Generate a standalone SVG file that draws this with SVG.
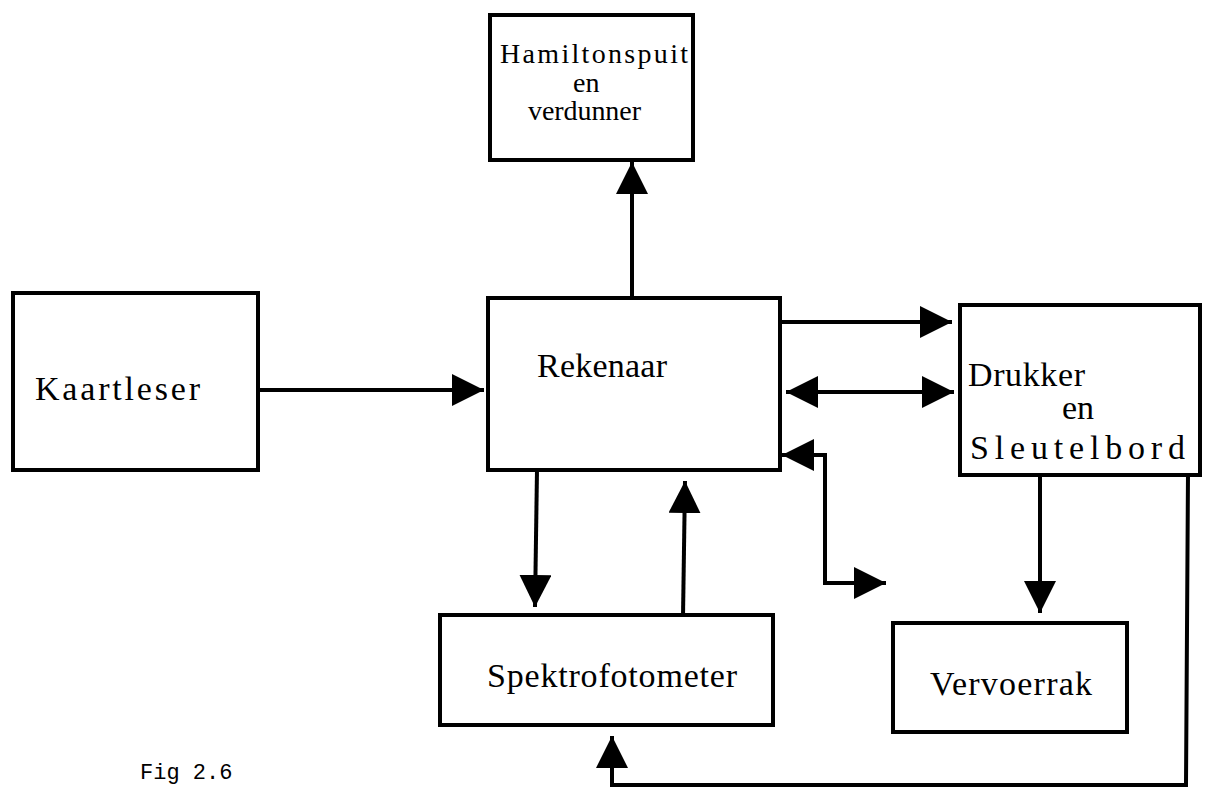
<svg xmlns="http://www.w3.org/2000/svg" width="1209" height="791" viewBox="0 0 1209 791">
<style>
.box{fill:#fff;stroke:#000;stroke-width:4}
.lbl{font-family:"Liberation Serif",serif;font-size:34px;fill:#000}
.sm{font-size:28px}
.con{fill:none;stroke:#000;stroke-width:4}
.fig{font-family:"Liberation Mono",monospace;font-size:22px;fill:#000}
</style>
<defs>
<marker id="ah" markerUnits="userSpaceOnUse" markerWidth="34" markerHeight="32" refX="32" refY="16" orient="auto-start-reverse">
<path d="M0,0 L32,16 L0,32 z" fill="#000"/>
</marker>
</defs>
<rect width="1209" height="791" fill="#fff"/>
<g id="hamilton">
<rect class="box" x="490" y="15" width="203" height="145"/>
<text class="lbl sm" x="500" y="63" textLength="188">Hamiltonspuit</text>
<text class="lbl sm" x="573" y="92">en</text>
<text class="lbl sm" x="528" y="120" textLength="113">verdunner</text>
</g>
<g id="kaartleser">
<rect class="box" x="13" y="293" width="245" height="177"/>
<text class="lbl" x="35" y="400" textLength="165">Kaartleser</text>
</g>
<g id="rekenaar">
<rect class="box" x="488" y="298" width="292" height="172"/>
<text class="lbl" x="537" y="377" textLength="130">Rekenaar</text>
</g>
<g id="drukker">
<rect class="box" x="960" y="305" width="240" height="170"/>
<text class="lbl" x="968" y="386" textLength="117">Drukker</text>
<text class="lbl" x="1062" y="419">en</text>
<text class="lbl" x="970" y="459" textLength="215">Sleutelbord</text>
</g>
<g id="spektrofotometer">
<rect class="box" x="440" y="615" width="333" height="110"/>
<text class="lbl" x="487" y="687" textLength="250">Spektrofotometer</text>
</g>
<g id="vervoerrak">
<rect class="box" x="893" y="623" width="234" height="109"/>
<text class="lbl" x="930" y="695" textLength="162">Vervoerrak</text>
</g>
<g id="connectors">
<line class="con" x1="632" y1="298" x2="632" y2="162" marker-end="url(#ah)"/>
<line class="con" x1="258" y1="390" x2="484" y2="390" marker-end="url(#ah)"/>
<line class="con" x1="780" y1="322" x2="952" y2="322" marker-end="url(#ah)"/>
<line class="con" x1="786" y1="392" x2="954" y2="392" marker-start="url(#ah)" marker-end="url(#ah)"/>
<polyline class="con" points="782,455 825,455 825,583 886,583" marker-start="url(#ah)" marker-end="url(#ah)"/>
<line class="con" x1="537" y1="470" x2="535" y2="607" marker-end="url(#ah)"/>
<line class="con" x1="683" y1="617" x2="685" y2="481" marker-end="url(#ah)"/>
<line class="con" x1="1040" y1="475" x2="1040" y2="613" marker-end="url(#ah)"/>
<polyline class="con" points="1188,473 1186,785 612,785 612,736" marker-end="url(#ah)"/>
</g>
<text class="fig" x="140" y="779">Fig 2.6</text>
</svg>
